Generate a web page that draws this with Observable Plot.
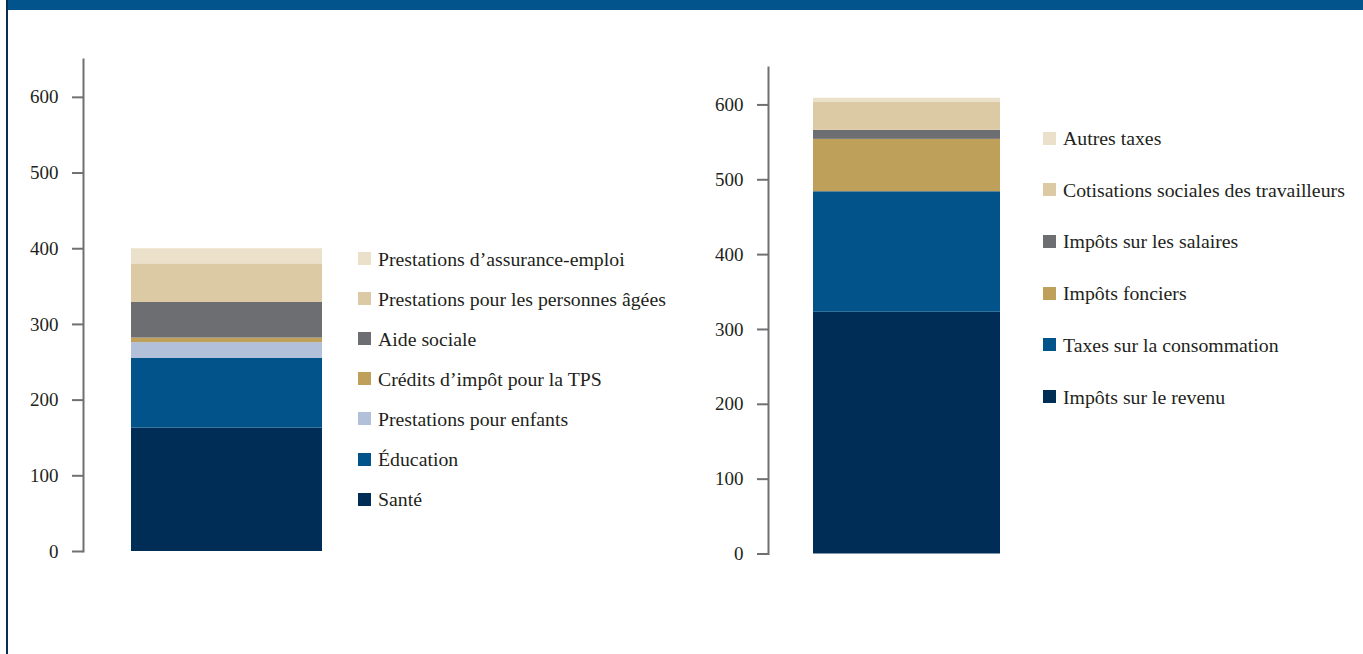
<!DOCTYPE html>
<html><head><meta charset="utf-8">
<script src="https://cdn.jsdelivr.net/npm/d3@7"></script>
<script src="https://cdn.jsdelivr.net/npm/@observablehq/plot@0.6"></script>
<style>
body{margin:0;background:#fff;}
#wrap{position:relative;width:1363px;height:654px;overflow:hidden;font-family:"Liberation Serif",serif;background:#fff;}
#band{position:absolute;left:6px;top:0;width:1357px;height:10px;background:#02558c;}
#lborder{position:absolute;left:6px;top:0;width:2px;height:654px;background:#0c2d52;}
.chart{position:absolute;left:0;top:0;}
.item{position:absolute;display:flex;align-items:center;white-space:nowrap;font-size:19.8px;line-height:20px;height:20px;color:#231f20;}
.sw{width:13px;height:13px;margin-right:7px;flex:none;}
</style></head>
<body>
<div id="wrap">
  <div id="band"></div>
  <div id="lborder"></div>
</div>
<script>
// ---- Data ----
const yTicks = [0, 100, 200, 300, 400, 500, 600];

// Left: dépenses (bottom to top)
const spendCats = ["Santé", "Éducation", "Prestations pour enfants", "Crédits d’impôt pour la TPS", "Aide sociale", "Prestations pour les personnes âgées", "Prestations d’assurance-emploi"];
const spendVals = [163, 92, 21, 6, 47, 51, 20];

// Right: revenus (bottom to top)
const revCats = ["Impôts sur le revenu", "Taxes sur la consommation", "Impôts fonciers", "Impôts sur les salaires", "Cotisations sociales des travailleurs", "Autres taxes"];
const revVals = [323, 161, 70, 12, 38, 5];

// ---- Styles ----
const spendColors = ["#002d55", "#02538a", "#b3c0d9", "#bfa05b", "#6d6e72", "#dccaa5", "#ebe1cb"];
const revColors = ["#002d55", "#02538a", "#bfa05b", "#6d6e72", "#dccaa5", "#ebe1cb"];

const wrap = document.getElementById("wrap");

function chart(cats, vals, colors, o) {
  const data = cats.map((c, i) => ({grp: "A", cat: c, value: vals[i]}));
  const svg = Plot.plot({
    width: 1363, height: 654,
    marginLeft: o.axisX, marginRight: 0, marginTop: o.top, marginBottom: 654 - o.bottom,
    x: {domain: ["A"], range: [o.barL, o.barR], padding: 0, axis: null},
    y: {domain: [0, 650]},
    color: {domain: cats, range: colors},
    style: {fontFamily: "Liberation Serif", fontSize: "19px", color: "#231f20", background: "transparent"},
    marks: [
      Plot.barY(data, {x: "grp", y: "value", fill: "cat"}),
      Plot.axisY({ticks: yTicks, tickSize: 11, tickPadding: 14, tickFormat: d => String(d), stroke: "#707074", strokeWidth: 2, label: null, fill: "#231f20"}),
      Plot.frame({anchor: "left", stroke: "#707074", strokeWidth: 2})
    ]
  });
  svg.classList.add("chart");
  wrap.appendChild(svg);
}

function legend(cats, colors, o) {
  const n = cats.length;
  for (let k = 0; k < n; k++) {
    const i = n - 1 - k;
    const d = document.createElement("div");
    d.className = "item";
    d.style.left = o.x + "px";
    d.style.top = (o.y0 + k * o.dy - 10) + "px";
    const s = document.createElement("span");
    s.className = "sw";
    s.style.background = colors[i];
    d.appendChild(s);
    d.appendChild(document.createTextNode(cats[i]));
    wrap.appendChild(d);
  }
}

chart(spendCats, spendVals, spendColors, {axisX: 83, top: 59, bottom: 551, barL: 131, barR: 322});
chart(revCats, revVals, revColors, {axisX: 768, top: 67, bottom: 553.5, barL: 813, barR: 1000});
legend(spendCats, spendColors, {x: 358, y0: 258.5, dy: 40.1});
legend(revCats, revColors, {x: 1043, y0: 138, dy: 51.7});
</script>
</body></html>
